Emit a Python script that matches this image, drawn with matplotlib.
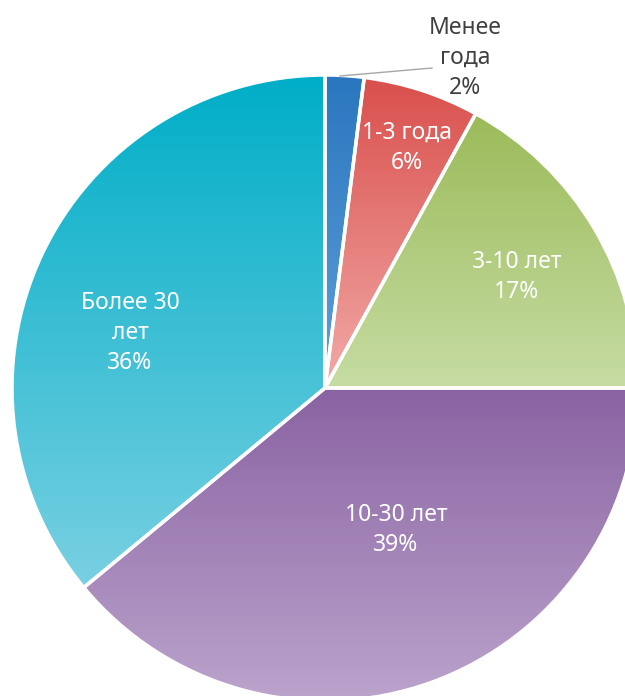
import numpy as np
import matplotlib
matplotlib.use("Agg")
from matplotlib import pyplot as plt
from matplotlib.colors import LinearSegmentedColormap

plt.rcParams['font.family'] = ['Noto Sans', 'DejaVu Sans']

# данные
labels = ["Менее\nгода", "1-3 года", "3-10 лет", "10-30 лет", "Более 30\nлет"]
values = [2, 6, 17, 39, 36]
# цвета: верх / низ градиента
top_colors = ["#2a77bf", "#d94f4c", "#9bbb59", "#8a63a2", "#00aec7"]
bottom_colors = ["#5f9fd8", "#f2aaa7", "#c6dca3", "#bca5cd", "#79d0e2"]

fig = plt.figure(figsize=(6.25, 6.96), dpi=100)
ax = fig.add_axes([0, 0, 1, 1])

wedges, _ = ax.pie(values, startangle=90, counterclock=False,
                   center=(325, 308), radius=313,
                   wedgeprops=dict(edgecolor="white", linewidth=2.5, facecolor="none"))

grad = np.linspace(0, 1, 256).reshape(-1, 1)  # снизу светлый, сверху тёмный
for w, c1, c2 in zip(wedges, top_colors, bottom_colors):
    w.set_zorder(3)
    verts = w.get_patch_transform().transform(w.get_path().vertices)
    x0, y0 = verts.min(axis=0)
    x1, y1 = verts.max(axis=0)
    cmap = LinearSegmentedColormap.from_list("g", [c2, c1])
    im = ax.imshow(grad, cmap=cmap, extent=[x0, x1, y0, y1], aspect="auto",
                   origin="lower", zorder=2, interpolation="bilinear")
    im.set_clip_path(w)

# подписи
pct = [f"{v}%" for v in values]
fs = 16.5
ax.text(465, 696 - 58, labels[0] + "\n" + pct[0], color="#404040", fontsize=fs,
        ha="center", va="center", linespacing=1.35, zorder=5)
ax.plot([340, 432], [696 - 76, 696 - 68], color="#a6a6a6", lw=1, zorder=4)
ax.text(407, 696 - 148, labels[1] + "\n" + pct[1], color="white", fontsize=fs,
        ha="center", va="center", linespacing=1.35, zorder=5)
ax.text(517, 696 - 277, labels[2] + "\n" + pct[2], color="white", fontsize=fs,
        ha="center", va="center", linespacing=1.35, zorder=5)
ax.text(396, 696 - 530, labels[3] + "\n" + pct[3], color="white", fontsize=fs,
        ha="center", va="center", linespacing=1.35, zorder=5)
ax.text(130, 696 - 333, labels[4] + "\n" + pct[4], color="white", fontsize=fs,
        ha="center", va="center", linespacing=1.35, zorder=5)

ax.set_xlim(0, 625)
ax.set_ylim(0, 696)
ax.set_aspect("equal")
ax.axis("off")

plt.savefig("out.png", dpi=100)
